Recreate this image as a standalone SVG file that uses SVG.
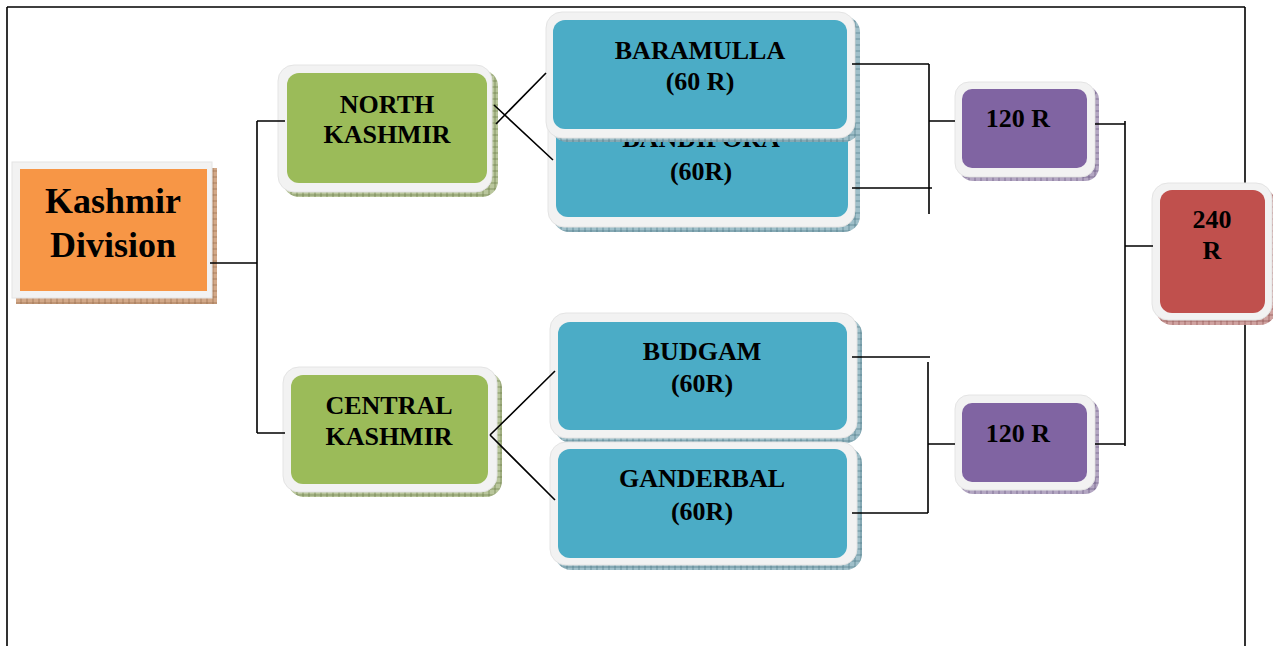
<svg xmlns="http://www.w3.org/2000/svg" width="1273" height="646" viewBox="0 0 1273 646">
<defs>
<pattern id="hOr" width="6" height="6" patternUnits="userSpaceOnUse"><rect width="6" height="6" fill="#d2a888"/><path d="M0 3H6M3 0V6" stroke="#8f6445" stroke-width="0.6"/></pattern>
<pattern id="hGr" width="6" height="6" patternUnits="userSpaceOnUse"><rect width="6" height="6" fill="#b9c69c"/><path d="M0 3H6M3 0V6" stroke="#62733a" stroke-width="0.6"/></pattern>
<pattern id="hBl" width="6" height="6" patternUnits="userSpaceOnUse"><rect width="6" height="6" fill="#9fbfc9"/><path d="M0 3H6M3 0V6" stroke="#41707e" stroke-width="0.6"/></pattern>
<pattern id="hPu" width="6" height="6" patternUnits="userSpaceOnUse"><rect width="6" height="6" fill="#b3a6c2"/><path d="M0 3H6M3 0V6" stroke="#5d4b78" stroke-width="0.6"/></pattern>
<pattern id="hRe" width="6" height="6" patternUnits="userSpaceOnUse"><rect width="6" height="6" fill="#cfa2a0"/><path d="M0 3H6M3 0V6" stroke="#874646" stroke-width="0.6"/></pattern>
</defs>
<style>
.frame{fill:#f2f2f2;stroke:#e4e4e4;stroke-width:1}
.or{fill:#f79646}
.gr{fill:#9bbb59}
.bl{fill:#4bacc6}
.pu{fill:#8064a2}
.re{fill:#c0504d}
.t{font-family:"Liberation Serif","Times New Roman",serif;font-weight:bold;font-size:26px;fill:#000;text-anchor:middle}
.big{font-size:36px}
.ln{stroke:#000;stroke-width:1.6;fill:none}
</style>
<rect width="1273" height="646" fill="#fff"/>
<g id="border" class="ln"><path d="M7 7V646M7 7H1245M1245 7V646"/></g>
<g id="kashmir-division">
<rect x="16" y="168" width="201" height="136" fill="url(#hOr)"/>
<rect class="frame" x="12" y="162" width="200" height="136"/>
<rect class="or" x="20" y="169" width="187" height="122"/>
<text class="t big" x="113" y="213">Kashmir</text>
<text class="t big" x="113" y="257">Division</text>
</g>
<g id="north-kashmir">
<rect x="283" y="70" width="215" height="127" rx="16" fill="url(#hGr)"/>
<rect class="frame" x="278" y="65" width="214" height="127" rx="16"/>
<rect class="gr" x="287" y="73" width="200" height="110" rx="12"/>
<text class="t" x="387" y="113">NORTH</text>
<text class="t" x="387" y="143">KASHMIR</text>
</g>
<g id="central-kashmir">
<rect x="288" y="372" width="214" height="125" rx="16" fill="url(#hGr)"/>
<rect class="frame" x="283" y="367" width="214" height="125" rx="16"/>
<rect class="gr" x="291" y="375" width="197" height="109" rx="12"/>
<text class="t" x="389" y="414">CENTRAL</text>
<text class="t" x="389" y="445">KASHMIR</text>
</g>
<g id="bandipora">
<rect x="553" y="105" width="307" height="127" rx="16" fill="url(#hBl)"/>
<rect class="frame" x="548" y="100" width="307" height="127" rx="16"/>
<rect class="bl" x="556" y="108" width="292" height="109" rx="12"/>
<text class="t" x="701" y="147">BANDIPORA</text>
<text class="t" x="701" y="180">(60R)</text>
</g>
<g id="baramulla">
<rect x="551" y="16" width="309" height="126" rx="16" fill="url(#hBl)"/>
<rect class="frame" x="546" y="12" width="309" height="126" rx="16"/>
<rect class="bl" x="553" y="20" width="294" height="109" rx="12"/>
<text class="t" x="700" y="59">BARAMULLA</text>
<text class="t" x="700" y="90">(60 R)</text>
</g>
<g id="budgam">
<rect x="555" y="318" width="307" height="125" rx="16" fill="url(#hBl)"/>
<rect class="frame" x="550" y="313" width="307" height="125" rx="16"/>
<rect class="bl" x="558" y="322" width="289" height="108" rx="12"/>
<text class="t" x="702" y="360">BUDGAM</text>
<text class="t" x="702" y="392">(60R)</text>
</g>
<g id="ganderbal">
<rect x="555" y="447" width="307" height="123" rx="16" fill="url(#hBl)"/>
<rect class="frame" x="550" y="442" width="307" height="123" rx="16"/>
<rect class="bl" x="558" y="449" width="289" height="109" rx="12"/>
<text class="t" x="702" y="487">GANDERBAL</text>
<text class="t" x="702" y="520">(60R)</text>
</g>
<g id="r120-top">
<rect x="959" y="86" width="140" height="95" rx="14" fill="url(#hPu)"/>
<rect class="frame" x="955" y="82" width="140" height="95" rx="14"/>
<rect class="pu" x="962" y="89" width="125" height="79" rx="10"/>
<text class="t" x="1018" y="127">120 R</text>
</g>
<g id="r120-bottom">
<rect x="959" y="399" width="140" height="95" rx="14" fill="url(#hPu)"/>
<rect class="frame" x="955" y="395" width="140" height="95" rx="14"/>
<rect class="pu" x="962" y="403" width="125" height="79" rx="10"/>
<text class="t" x="1018" y="442">120 R</text>
</g>
<g id="r240">
<rect x="1156" y="188" width="120" height="137" rx="16" fill="url(#hRe)"/>
<rect class="frame" x="1152" y="183" width="120" height="137" rx="16"/>
<rect class="re" x="1160" y="190" width="105" height="123" rx="12"/>
<text class="t" x="1212" y="228">240</text>
<text class="t" x="1212" y="259">R</text>
</g>
<g id="connectors" class="ln">
<path d="M210 263H257M257 121V433M257 121H285M257 433H285"/>
<path d="M494 105L553 160M496 124L546 73"/>
<path d="M490 435L555 371M490 435L555 500"/>
<path d="M852 64H929M929 64V214M929 121H955M852 188H932"/>
<path d="M852 357H930M928 362V513M928 444H955M852 513H928"/>
<path d="M1095 124H1125M1125 121V446M1125 246H1153M1095 444H1125"/>
</g>
</svg>
